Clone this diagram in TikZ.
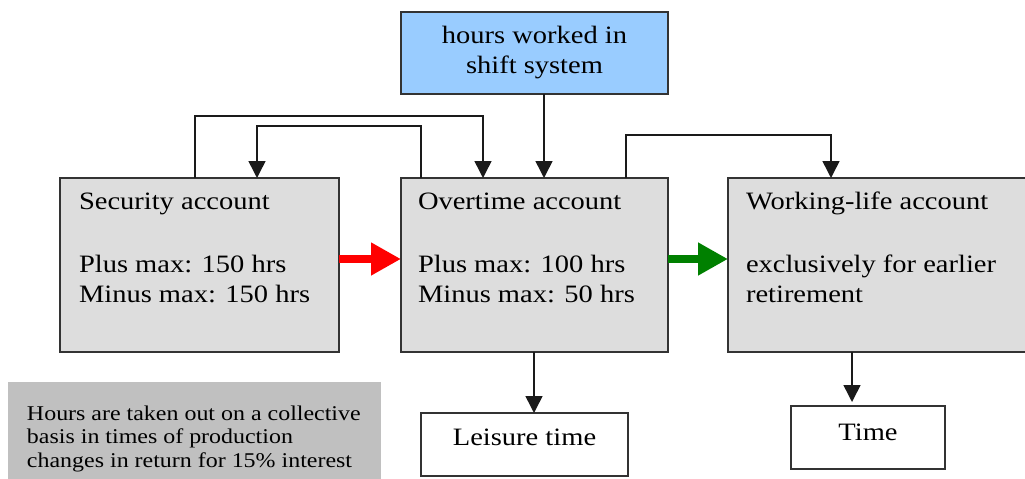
\documentclass[tikz,border=0pt]{standalone}
\usepackage{fontspec}
\setmainfont[FakeStretch=1.14]{Liberation Serif}
\usetikzlibrary{arrows.meta}
\definecolor{boxgray}{HTML}{DDDDDD}
\definecolor{notegray}{HTML}{C0C0C0}
\definecolor{skyblue}{HTML}{99CCFF}
\definecolor{edgecol}{HTML}{333333}
\definecolor{linecol}{HTML}{1A1A1A}
\definecolor{arrowred}{HTML}{FF0000}
\definecolor{arrowgreen}{HTML}{008000}
\begin{document}
\begin{tikzpicture}[x=1pt,y=-1pt,
  boxbase/.style={draw=edgecol, line width=1.6pt, anchor=north west, inner sep=0pt, outer sep=0pt},
  acct/.style={boxbase, fill=boxgray, minimum height=174pt},
  sink/.style={boxbase, fill=white, minimum height=63pt, font=\fontsize{25}{30}\selectfont},
  txt/.style={anchor=base west, inner sep=0pt, outer sep=0pt, font=\fontsize{25}{31}\selectfont},
  notetxt/.style={anchor=base west, inner sep=0pt, outer sep=0pt, font=\fontsize{21}{23.5}\selectfont},
  conn/.style={draw=linecol, line width=1.5pt, -{Triangle[width=17pt,length=17pt]}},
  fat/.style={line width=8pt, -{Triangle[width=31pt,length=30pt]}}
]
\useasboundingbox (0,0) rectangle (1025,479);
\begin{scope}
\clip (0,0) rectangle (1025,479);
\node[acct, minimum width=279pt] (sec) at (60,178) {};
\node[acct, minimum width=267pt] (ot) at (401,178) {};
\node[acct, minimum width=320pt] (wl) at (728,178) {};
\node[anchor=north west, fill=notegray, inner sep=0pt, outer sep=0pt, minimum width=373pt, minimum height=110pt] (note) at (8,382) {};
\end{scope}

\node[boxbase, fill=skyblue, minimum width=267pt, minimum height=82pt, align=center,
      font=\fontsize{25}{30}\selectfont] (top) at (401,12) {hours worked in\\shift system};
\node[sink, minimum width=207pt, text height=12pt, text depth=11pt] (leis) at (421,413) {Leisure time};
\node[sink, minimum width=154pt, text height=14pt, text depth=9pt] (tm) at (791,406) {Time};

% texts inside account boxes
\node[txt] (sec1) at (79,209) {Security account};
\node[txt] (sec2) at (79,272) {Plus max: 150 hrs};
\node[txt] (sec3) at (79,302) {Minus max: 150 hrs};
\node[txt] (ot1) at (418,209) {Overtime account};
\node[txt] (ot2) at (418,272) {Plus max: 100 hrs};
\node[txt] (ot3) at (418,302) {Minus max: 50 hrs};
\node[txt] (wl1) at (746,209) {Working-life account};
\node[txt] (wl2) at (746,272) {exclusively for earlier};
\node[txt] (wl3) at (746,302) {retirement};

\node[notetxt] (n1) at (27,420) {Hours are taken out on a collective};
\node[notetxt] (n2) at (27,443.5) {basis in times of production};
\node[notetxt] (n3) at (27,467) {changes in return for 15\% interest};

% connectors
\draw[conn] ([xshift=143pt]top.south west) -- ([xshift=143pt]ot.north west);
\draw[conn] ([xshift=135pt]sec.north west) -- ++(0,-62) -| ([xshift=82pt]ot.north west);
\draw[conn] ([xshift=20pt]ot.north west) -- ++(0,-52) -| ([xshift=197pt]sec.north west);
\draw[conn] ([xshift=225pt]ot.north west) -- ++(0,-43) -| ([xshift=103pt]wl.north west);
\draw[conn] ([xshift=133pt]ot.south west) -- ([xshift=113pt]leis.north west);
\draw[conn] ([xshift=124pt]wl.south west) -- ([xshift=61pt,yshift=4pt]tm.north west);

\draw[fat, draw=arrowred, fill=arrowred] ([yshift=6pt]sec.east) -- ([yshift=6pt]ot.west);
\draw[fat, draw=arrowgreen, fill=arrowgreen] ([yshift=6pt]ot.east) -- ([yshift=6pt]wl.west);
\end{tikzpicture}
\end{document}
